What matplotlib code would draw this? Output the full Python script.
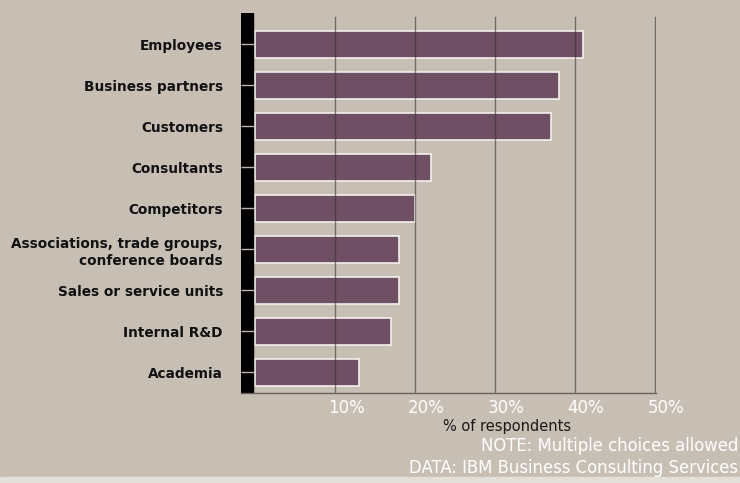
import matplotlib.pyplot as plt
import matplotlib.transforms as mtransforms
from matplotlib.patches import Rectangle

# Data
categories = ['Employees', 'Business partners', 'Customers', 'Consultants', 'Competitors',
              'Associations, trade groups,\nconference boards', 'Sales or service units',
              'Internal R&D', 'Academia']
values = [41, 38, 37, 22, 20, 18, 18, 17, 13]
xticks = [10, 20, 30, 40, 50]
xtick_labels = ['10%', '20%', '30%', '40%', '50%']

bg = '#c7bfb4'
bar_col = '#6e4f63'

fig = plt.figure(figsize=(7.4, 4.83), dpi=100, facecolor=bg)
ax = fig.add_axes([241/740, 90/483, 415/740, 380/483])
ax.set_facecolor(bg)

ypos = list(range(len(categories)))
ax.barh(ypos, values, height=0.68, color=bar_col, edgecolor='#f4f0ec', lw=1.2, zorder=1)

# gridlines over bars
for x in xticks:
    ax.axvline(x, ymin=0, ymax=0.99, color='#3a3430', lw=1, alpha=0.6, zorder=2)

# thick black left bar
ax.axvspan(-1.75, -0.2, color='black', zorder=1)

ax.set_xlim(-1.75, 50.12)
ax.set_ylim(8.5, -0.768)
ax.set_axisbelow(False)

for s in ['top', 'right', 'left']:
    ax.spines[s].set_visible(False)
ax.spines['bottom'].set_color('#6a625a')
ax.spines['bottom'].set_linewidth(1)

ax.set_yticks(ypos)
ax.set_yticklabels(categories, fontsize=9.8, fontweight='bold', color='#111111',
                   linespacing=1.25)
ax.tick_params(axis='y', direction='in', length=9, width=1, color='#bdb5ab', pad=13)

ax.set_xticks(xticks)
ax.set_xticklabels(xtick_labels, fontsize=12, color='white')
ax.tick_params(axis='x', length=0, pad=4)
off = mtransforms.ScaledTranslation(11/100, 0, fig.dpi_scale_trans)
for lab in ax.get_xticklabels():
    lab.set_transform(lab.get_transform() + off)

fig.text(507/740, 1 - 426/483, '% of respondents', ha='center', va='center',
         fontsize=10.5, color='#1a1a1a')
fig.text(738/740, 1 - 446/483, 'NOTE: Multiple choices allowed', ha='right', va='center',
         fontsize=11.9, color='white')
fig.text(738/740, 1 - 468/483, 'DATA: IBM Business Consulting Services', ha='right', va='center',
         fontsize=11.9, color='white')

fig.patches.append(Rectangle((0, 0), 1, 6/483, transform=fig.transFigure,
                             color='#e2ded8', zorder=0))

plt.savefig('out.png', dpi=100, facecolor=bg)
